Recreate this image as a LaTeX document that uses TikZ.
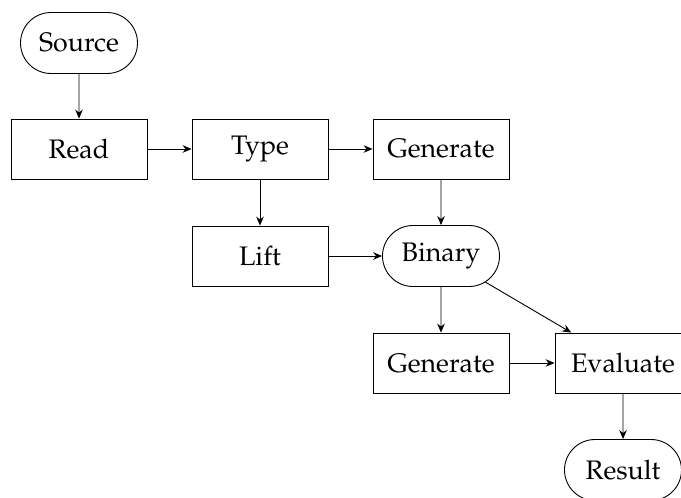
\documentclass[tikz,border=0pt]{standalone}
\usepackage[T1]{fontenc}
\usepackage{mathpazo}
\usetikzlibrary{shapes.misc,arrows.meta}
\tikzset{
  box/.style={draw, rectangle, minimum width=68pt, minimum height=30pt, inner sep=0pt, line width=0.45pt},
  term/.style={draw, rounded rectangle, minimum width=58.5pt, minimum height=30.5pt, inner sep=0pt, line width=0.45pt},
  conn/.style={-{Stealth[length=4.5pt,width=3.8pt,inset=1.5pt]}, line width=0.45pt}
}
\begin{document}
\begin{tikzpicture}[x=0.5pt,y=-0.5pt,font=\fontsize{13.4}{15}\selectfont]
\useasboundingbox (0,0) rectangle (681,498);
\node[term] (source) at (79,43) {Source};
\node[box] (read) at (79,149) {Read};
\node[box] (type) at (260,149) {Type};
\node[box] (gen1) at (441,149) {Generate};
\node[box] (lift) at (260,256) {Lift};
\node[term] (binary) at (441,256) {Binary};
\node[box] (gen2) at (441,363) {Generate};
\node[box] (eval) at (623,363) {Evaluate};
\node[term] (result) at (623,470) {Result};
\draw[conn] (source) -- (read);
\draw[conn] (read) -- (type);
\draw[conn] (type) -- (gen1);
\draw[conn] (type) -- (lift);
\draw[conn] (gen1) -- (binary);
\draw[conn] (lift) -- (binary);
\draw[conn] (binary) -- (gen2);
\draw[conn] (binary) -- (eval);
\draw[conn] (gen2) -- (eval);
\draw[conn] (eval) -- (result);
\end{tikzpicture}
\end{document}
